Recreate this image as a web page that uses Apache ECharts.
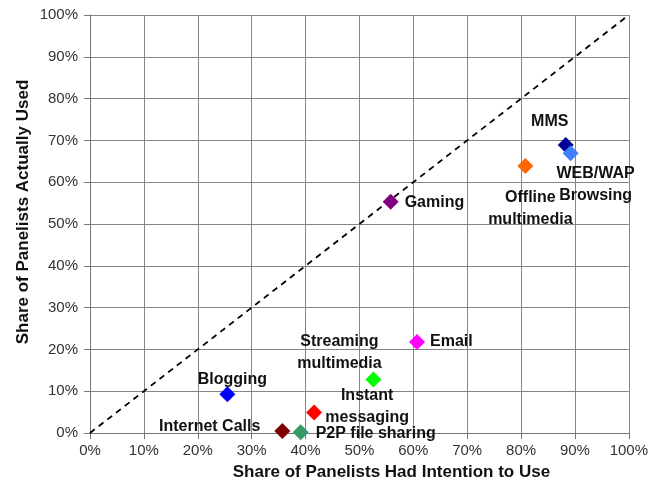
<!DOCTYPE html>
<html>
<head>
<meta charset="utf-8">
<script src="https://cdn.jsdelivr.net/npm/echarts@6/dist/echarts.min.js"></script>
<style>
  html, body { margin: 0; padding: 0; background: #fff; }
  #chart { width: 651px; height: 494px; }
</style>
</head>
<body>
<div id="chart"></div>
<script>
// Services and panel shares (percent)
const services = ['Internet Calls', 'P2P file sharing', 'Instant\nmessaging', 'Blogging',
  'Streaming\nmultimedia', 'Email', 'Gaming', 'Offline\nmultimedia', 'MMS', 'WEB/WAP\nBrowsing'];
const intention = [35.7, 39.1, 41.6, 25.5, 52.6, 60.7, 55.8, 80.8, 88.3, 89.2];
const actuallyUsed = [0.5, 0.2, 4.9, 9.3, 12.8, 21.8, 55.3, 63.9, 68.9, 66.9];
const colors = ['#7F0000', '#339966', '#FF0000', '#0000FF', '#00FF00', '#FF00FF',
  '#800080', '#FF6600', '#000099', '#3F80FF'];
// label placement relative to each marker
const labelOffsets = [[-22, -4], [15, 1], [53, -6], [5, -15], [-34, -27], [13, 0],
  [14, 1], [5, 43], [-16, -23], [25, 31]];
const labelAligns = ['right', 'left', 'center', 'center', 'center', 'left',
  'left', 'center', 'center', 'center'];
const tickValues = [0, 10, 20, 30, 40, 50, 60, 70, 80, 90, 100];

const chart = echarts.init(document.getElementById('chart'));

const pointSeries = services.map((name, i) => ({
  type: 'scatter',
  name: name,
  symbol: 'diamond',
  symbolSize: 16,
  z: 3,
  itemStyle: { color: colors[i], opacity: 1 },
  label: {
    show: true,
    position: 'inside',
    offset: labelOffsets[i],
    align: labelAligns[i],
    verticalAlign: 'middle',
    formatter: () => name,
    color: '#111',
    fontFamily: 'Liberation Sans, Arial, sans-serif',
    fontWeight: 'bold',
    fontSize: 16,
    lineHeight: 22
  },
  data: [[intention[i], actuallyUsed[i]]]
}));

const axisFont = { fontFamily: 'Liberation Sans, Arial, sans-serif', fontSize: 15, color: '#333' };

chart.setOption({
  animation: false,
  backgroundColor: '#fff',
  grid: { left: 90, right: 20, top: 15, bottom: 61 },
  xAxis: {
    type: 'value', min: 0, max: 100, interval: 10,
    name: 'Share of Panelists Had Intention to Use',
    nameLocation: 'middle', nameGap: 31, nameMoveOverlap: false,
    nameTextStyle: { fontFamily: 'Liberation Sans, Arial, sans-serif', fontWeight: 'bold',
      fontSize: 17, color: '#111', padding: [0, 0, 0, 64] },
    axisLine: { show: true, lineStyle: { color: '#777', width: 1 } },
    axisTick: { show: true, length: 6, lineStyle: { color: '#777' } },
    axisLabel: Object.assign({ margin: 10, formatter: v => v + '%' }, axisFont),
    splitLine: { show: true, lineStyle: { color: '#858585', width: 1 } }
  },
  yAxis: {
    type: 'value', min: 0, max: 100, interval: 10,
    name: 'Share of Panelists Actually Used',
    nameLocation: 'middle', nameGap: 58, nameMoveOverlap: false,
    nameTextStyle: { fontFamily: 'Liberation Sans, Arial, sans-serif', fontWeight: 'bold',
      fontSize: 17, color: '#111', padding: [0, 0, 0, 24] },
    axisLine: { show: true, lineStyle: { color: '#777', width: 1 } },
    axisTick: { show: true, length: 6, lineStyle: { color: '#777' } },
    axisLabel: Object.assign({ margin: 12, formatter: v => v + '%' }, axisFont),
    splitLine: { show: true, lineStyle: { color: '#858585', width: 1 } }
  },
  series: [{
    type: 'line',
    name: 'parity',
    data: [[tickValues[0], tickValues[0]], [tickValues[10], tickValues[10]]],
    symbol: 'none',
    z: 2,
    lineStyle: { color: '#000', width: 1.8, type: [6, 5] }
  }].concat(pointSeries)
});
</script>
</body>
</html>
